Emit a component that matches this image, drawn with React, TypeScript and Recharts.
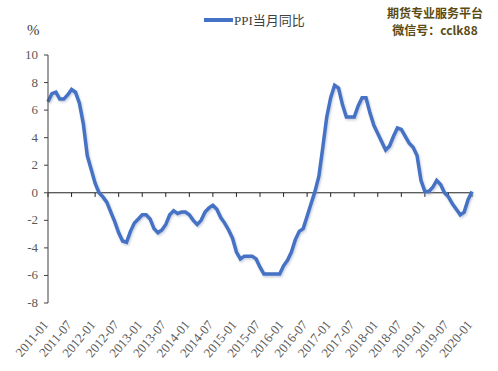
import React from 'react';
import { LineChart, Line, XAxis, YAxis, ReferenceLine } from 'recharts';

const months: string[] = [];
for (let y = 2011; y <= 2020; y++) {
  for (let m = 1; m <= 12; m++) {
    if (y === 2020 && m > 1) break;
    months.push(`${y}-${m < 10 ? '0' + m : m}`);
  }
}

const ppi2011 = [6.6, 7.2, 7.3, 6.8, 6.8, 7.1, 7.5, 7.3, 6.5, 5.0, 2.7, 1.7];
const ppi2012 = [0.7, 0.0, -0.3, -0.7, -1.4, -2.1, -2.9, -3.5, -3.6, -2.8, -2.2, -1.9];
const ppi2013 = [-1.6, -1.6, -1.9, -2.6, -2.9, -2.7, -2.3, -1.6, -1.3, -1.5, -1.4, -1.4];
const ppi2014 = [-1.6, -2.0, -2.3, -2.0, -1.4, -1.1, -0.9, -1.2, -1.8, -2.2, -2.7, -3.3];
const ppi2015 = [-4.3, -4.8, -4.6, -4.6, -4.6, -4.8, -5.4, -5.9, -5.9, -5.9, -5.9, -5.9];
const ppi2016 = [-5.3, -4.9, -4.3, -3.4, -2.8, -2.6, -1.7, -0.8, 0.1, 1.2, 3.3, 5.5];
const ppi2017 = [6.9, 7.8, 7.6, 6.4, 5.5, 5.5, 5.5, 6.3, 6.9, 6.9, 5.8, 4.9];
const ppi2018 = [4.3, 3.7, 3.1, 3.4, 4.1, 4.7, 4.6, 4.1, 3.6, 3.3, 2.7, 0.9];
const ppi2019 = [0.1, 0.1, 0.4, 0.9, 0.6, 0.0, -0.3, -0.8, -1.2, -1.6, -1.4, -0.5];
const ppi2020 = [0.1];

const ppiValues = [
  ...ppi2011, ...ppi2012, ...ppi2013, ...ppi2014, ...ppi2015,
  ...ppi2016, ...ppi2017, ...ppi2018, ...ppi2019, ...ppi2020,
];

const xTicks = [
  '2011-01', '2011-07', '2012-01', '2012-07', '2013-01', '2013-07', '2014-01',
  '2014-07', '2015-01', '2015-07', '2016-01', '2016-07', '2017-01', '2017-07',
  '2018-01', '2018-07', '2019-01', '2019-07', '2020-01',
];
const yTicks = [-8, -6, -4, -2, 0, 2, 4, 6, 8, 10];

const data = months.map((m, i) => ({ month: m, ppi: ppiValues[i] }));

const SERIF = 'Liberation Serif, Times New Roman, serif';

const XTick = (props: any) => {
  const { x, y, payload } = props;
  const ax = x + 1;
  const ay = y + 22;
  return (
    <text
      x={ax}
      y={ay}
      transform={`rotate(-50, ${ax}, ${ay})`}
      textAnchor="end"
      style={{ fontSize: 13, fontFamily: SERIF, fill: '#595959' }}
    >
      {payload.value}
    </text>
  );
};

const YTick = (props: any) => {
  const { x, y, payload } = props;
  return (
    <text
      x={x}
      y={y + 4}
      textAnchor="end"
      style={{ fontSize: 13, fontFamily: SERIF, fill: '#595959' }}
    >
      {payload.value}
    </text>
  );
};

export default function App() {
  return (
    <div style={{ position: 'absolute', left: 0, top: 0, width: 498, height: 371, background: '#fff' }}>
      <LineChart
        width={498}
        height={371}
        data={data}
        margin={{ top: 55, right: 26, bottom: 8, left: 0 }}
      >
        <defs>
          <filter id="lineShadow" x="-5%" y="-5%" width="110%" height="110%">
            <feDropShadow dx="1" dy="1.5" stdDeviation="1" floodColor="#7f8fb0" floodOpacity="0.45" />
          </filter>
        </defs>
        <XAxis
          dataKey="month"
          type="category"
          ticks={xTicks}
          interval={0}
          axisLine={false}
          tickLine={false}
          tickSize={0}
          tickMargin={0}
          height={60}
          tick={<XTick />}
        />
        <YAxis
          domain={[-8, 10]}
          ticks={yTicks}
          interval={0}
          width={48}
          axisLine={{ stroke: '#404040', strokeWidth: 1 }}
          tickLine={{ stroke: '#404040', strokeWidth: 1 }}
          tickSize={4}
          tickMargin={6}
          tick={<YTick />}
        />
        <ReferenceLine y={0} stroke="#222" strokeWidth={1} />
        {xTicks.map((t) => (
          <ReferenceLine
            key={t}
            segment={[{ x: t, y: 0 }, { x: t, y: -0.3 }]}
            stroke="#222"
            strokeWidth={1}
          />
        ))}
        <Line
          type="linear"
          dataKey="ppi"
          stroke="#4472C4"
          strokeWidth={3.5}
          dot={false}
          activeDot={false}
          isAnimationActive={false}
          style={{ filter: 'url(#lineShadow)' }}
        />
        <text x={27} y={35} style={{ fontSize: 15, fontFamily: SERIF, fill: '#404040' }}>%</text>
        <line x1={204} y1={20} x2={233} y2={20} stroke="#4472C4" strokeWidth={4} />
        <text x={234} y={25} style={{ fontSize: 13, fontFamily: 'Liberation Serif, Noto Sans CJK SC, serif', fill: '#404040' }}>PPI当月同比</text>
        <text x={435} y={18} textAnchor="middle" style={{ fontSize: 12, fontWeight: 700, fontFamily: 'Noto Sans CJK SC, sans-serif', fill: '#5a4a14' }}>期货专业服务平台</text>
        <text x={435} y={35} textAnchor="middle" style={{ fontSize: 12, fontWeight: 700, fontFamily: 'Noto Sans CJK SC, sans-serif', fill: '#5a4a14' }}>微信号：cclk88</text>
      </LineChart>
    </div>
  );
}
